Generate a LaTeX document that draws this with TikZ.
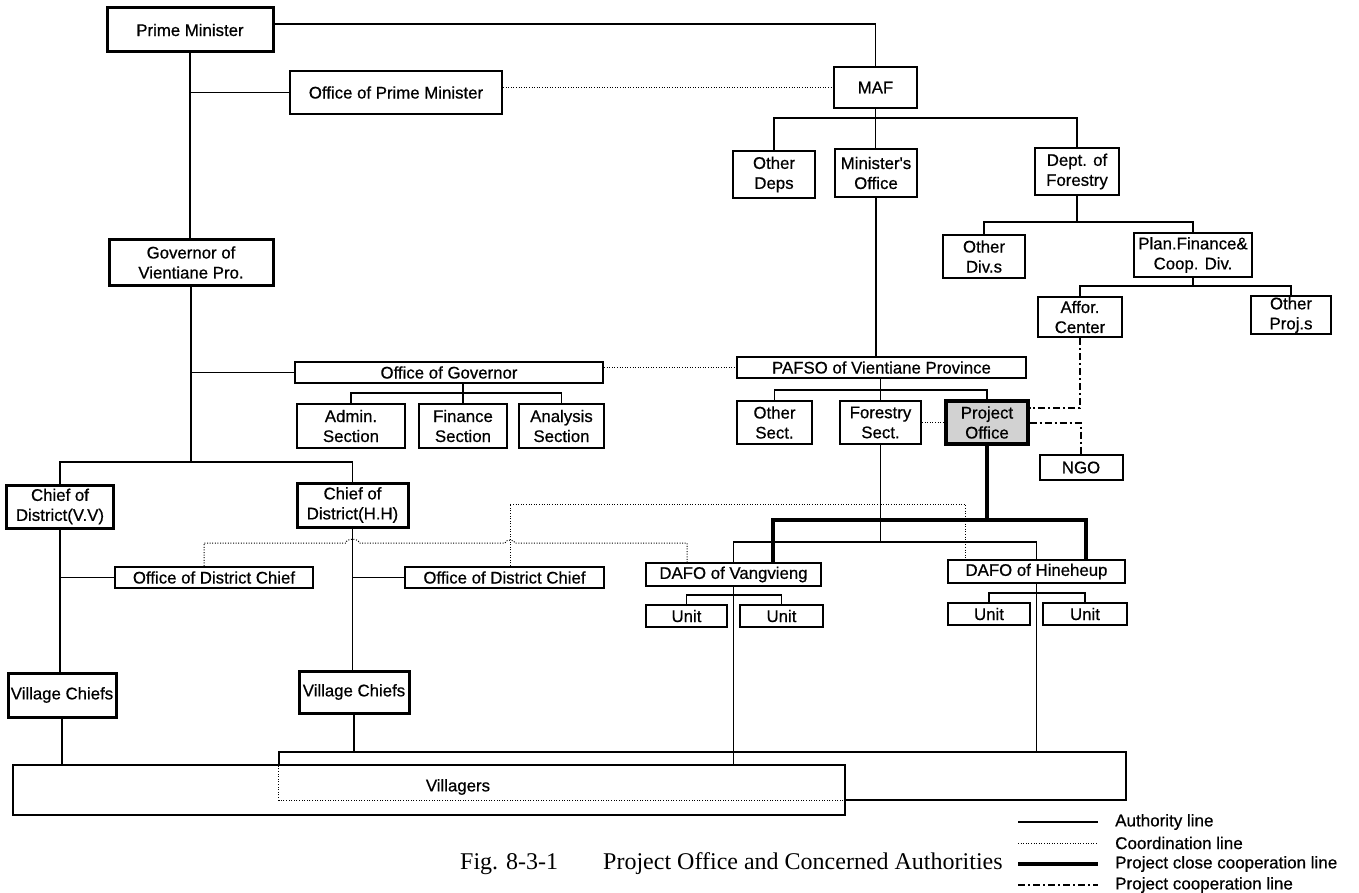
\documentclass[tikz,border=0pt]{standalone}
\usepackage{fontspec}
\setmainfont{Liberation Sans}
\newfontfamily\boxfont{Liberation Sans}[FakeBold=0.6]
\newfontfamily\capfont{Liberation Serif}
\begin{document}
\begin{tikzpicture}[x=1pt,y=-1pt,
  box/.style={draw, line width=2pt, inner sep=0pt, align=center, fill=white,
    font=\boxfont\fontsize{16.8}{20}\selectfont},
  tbox/.style={box, line width=3pt},
  wh/.style 2 args={minimum width=#1pt, minimum height=#2pt},
  auth/.style={line width=1.8pt},
  coordl/.style={line width=1pt, dash pattern=on 1pt off 1.6pt},
  closel/.style={line width=3.6pt},
  coopl/.style={line width=1.6pt, dash pattern=on 7pt off 3pt on 2pt off 3pt},
  legtext/.style={anchor=west, inner sep=0pt, font=\boxfont\fontsize{17}{20}\selectfont}]
\useasboundingbox (0,0) rectangle (1359,893);

% ---------- nodes ----------
\node[tbox, wh={166}{44}] (pm) at (190,30) {Prime Minister};
\node[box, wh={212}{43}] (opm) at (396,92.5) {Office of Prime Minister};
\node[box, wh={83}{41}] (maf) at (875.5,87.5) {MAF};
\node[box, wh={82}{47}] (othdeps) at (774,174.5) {Other\\Deps};
\node[box, wh={82}{48}] (minoff) at (876,173) {Minister's\\Office};
\node[box, wh={84}{47}] (deptfor) at (1077,171.5) {Dept. of\\Forestry};
\node[box, wh={82}{43}] (othdiv) at (984,256.5) {Other\\Div.s};
\node[box, wh={118}{44}] (planfin) at (1193,255) {Plan.Finance\&\\Coop. Div.};
\node[box, wh={84}{40}] (affor) at (1080,317) {Affor.\\Center};
\node[box, wh={80}{38}] (othproj) at (1291,315) {Other\\Proj.s};

\node[tbox, wh={164}{45}] (gov) at (191,262.5) {Governor of\\Vientiane Pro.};
\node[box, wh={308}{21}] (og) at (449,372.5) {Office of Governor};
\node[box, wh={108}{44}] (admin) at (351,426) {Admin.\\Section};
\node[box, wh={88}{44}] (finance) at (463,426) {Finance\\Section};
\node[box, wh={85}{44}] (analysis) at (561.5,426) {Analysis\\Section};

\node[box, wh={289}{21}] (pafso) at (881.5,367.5) {PAFSO of Vientiane Province};
\node[box, wh={75}{43}] (othsect) at (774.5,422.5) {Other\\Sect.};
\node[box, wh={81}{43}] (forsect) at (880.5,422.5) {Forestry\\Sect.};
\node[box, wh={82}{43}, line width=3.4pt, fill=gray!35] (projoff) at (987,422.5) {Project\\Office};
\node[box, wh={83}{25}] (ngo) at (1081,467.5) {NGO};

\node[tbox, wh={107}{43}] (chvv) at (60,506.5) {Chief of\\District(V.V)};
\node[tbox, wh={111}{44}] (chhh) at (352.5,505) {Chief of\\District(H.H)};
\node[box, wh={198}{21}] (odcl) at (214,577.5) {Office of District Chief};
\node[box, wh={199}{21}] (odcr) at (504.5,577.5) {Office of District Chief};
\node[box, wh={175}{23}] (dafov) at (733.5,574.5) {DAFO of Vangvieng};
\node[box, wh={177}{23}] (dafoh) at (1036.5,571.5) {DAFO of Hineheup};
\node[box, wh={81}{22}] (unit1) at (686.5,616) {Unit};
\node[box, wh={83}{22}] (unit2) at (781.5,616) {Unit};
\node[box, wh={82}{22}] (unit3) at (989,614) {Unit};
\node[box, wh={84}{22}] (unit4) at (1085,614) {Unit};

\node[tbox, wh={108}{44}] (vcl) at (62,695) {Village Chiefs};
\node[tbox, wh={110}{42}] (vcr) at (354,692) {Village Chiefs};

\node[draw, line width=1.8pt, inner sep=0pt, wh={832}{50}] (villA) at (429,790) {};
\node[inner sep=0pt, wh={847}{48}] (villB) at (702.5,776) {};
\draw[line width=1.8pt] (villB.south west |- villA.north) -- (villB.north west) -- (villB.north east)
  -- (villB.south east) -- (villB.south -| villA.east);
\draw[coordl] (villB.south -| villA.east) -- (villB.south west) -- (villB.south west |- villA.north);
\node[inner sep=0pt, font=\boxfont\fontsize{16.8}{20}\selectfont] (villtext) at (458,787) {Villagers};

% ---------- connectors: top ----------
\draw[auth] ([yshift=6pt]pm.east) -| (maf.north);
\draw[auth] (pm.south) -- (pm.south |- gov.north);
\draw[auth] (pm.south |- opm.west) -- (opm.west);
\draw[coordl] ([yshift=5pt]opm.east) -- ([yshift=5pt]opm.east -| maf.west);

\coordinate (mafbar) at (875.5,118);
\draw[auth] (maf.south) -- (maf.south |- minoff.north);
\draw[auth] (othdeps.north) |- (mafbar) -| (deptfor.north);
\draw[auth] (minoff.south) -- (minoff.south |- pafso.north);

\coordinate (dfbar) at (1077,222);
\draw[auth] (deptfor.south) -- (dfbar);
\draw[auth] (othdiv.north) |- (dfbar) -| (planfin.north);

\coordinate (pfbar) at (1193,286);
\draw[auth] (planfin.south) -- (pfbar);
\draw[auth] (affor.north) |- (pfbar) -| (othproj.north);

\coordinate (pcu) at ([yshift=14.5pt]projoff.east);
\coordinate (pcl) at ([yshift=-0.5pt]projoff.east);
\draw[coopl] (affor.south) -- (affor.south |- pcu) -- (pcu);
\draw[coopl] (pcl) -- (pcl -| ngo.north) -- (ngo.north);

% ---------- governor side ----------
\coordinate (chbar) at (191,462);
\draw[auth] (gov.south) -- (chbar);
\draw[auth] (chvv.north) |- (chbar) -| (chhh.north);
\draw[auth] (gov.south |- og.west) -- (og.west);
\draw[coordl] (og.east |- pafso.west) -- (pafso.west);

\coordinate (ogbar) at (463,393);
\draw[auth] (og.south -| finance.north) -- (finance.north);
\draw[auth] (admin.north) |- (ogbar) -| (analysis.north);

\coordinate (pabar) at (880.5,390);
\draw[auth] (pafso.south -| forsect.north) -- (forsect.north);
\draw[auth] (othsect.north) |- (pabar) -| (projoff.north);
\draw[coordl] (forsect.east) -- (projoff.west);

% ---------- districts ----------
\draw[auth] (chvv.south) -- (chvv.south |- vcl.north);
\draw[auth] (chvv.south |- odcl.west) -- (odcl.west);
\draw[auth] (chhh.south) -- (chhh.south |- vcr.north);
\draw[auth] (chhh.south |- odcr.west) -- (odcr.west);
\draw[auth] (vcl.south) -- (vcl.south |- villA.north);
\draw[auth] (vcr.south) -- (vcr.south |- villB.north);

% ---------- DAFOs ----------
\draw[auth] (dafov.south) -- (dafov.south |- villA.north);
\draw[auth] (dafoh.south) -- (dafoh.south |- villB.north);
\coordinate (dvbar) at (733.5,595);
\draw[auth] (unit1.north) |- (dvbar) -| (unit2.north);
\coordinate (dhbar) at (1036.5,593);
\draw[auth] (unit3.north) |- (dhbar) -| (unit4.north);

\coordinate (fsbar) at (880.5,542);
\draw[auth] (forsect.south) -- (fsbar);
\draw[auth] (dafov.north) |- (fsbar) -| (dafoh.north);

\coordinate (pobar) at (987,520);
\coordinate (dvclose) at ([xshift=39.5pt]dafov.north);
\coordinate (dhclose) at ([xshift=49.5pt]dafoh.north);
\draw[closel] (projoff.south) -- (pobar);
\draw[closel] (dvclose) |- (pobar) -| (dhclose);

% ---------- coordination lines ----------
\coordinate (odclT) at ([xshift=-10pt]odcl.north);
\coordinate (dvcoord) at ([xshift=-46.5pt]dafov.north);
\coordinate (odcrT) at ([xshift=5.5pt]odcr.north);
\coordinate (dhcoord) at ([xshift=-71.5pt]dafoh.north);
\coordinate (fsc) at (880.5,504);
\draw[coordl] (odclT) -- (odclT |- 0,543) -- (346,543) to[out=90,in=90] (359,543)
  -- (505,543) to[out=90,in=90] (515,543) -- (dvcoord |- 0,543) -- (dvcoord);
\draw[coordl] (odcrT) -- (odcrT |- fsc) -- (fsc);
\draw[coordl] (fsc) -- (fsc -| dhcoord) -- (dhcoord);

% ---------- caption and legend ----------
\node[anchor=west, inner sep=0pt, font=\capfont\fontsize{24}{28}\selectfont] (figno) at (460,864) {Fig. 8-3-1};
\node[anchor=west, inner sep=0pt, font=\capfont\fontsize{24}{28}\selectfont] (title) at (603,864) {Project Office and Concerned Authorities};

\coordinate (l1a) at (1018,822); \coordinate (l1b) at (1098,822);
\coordinate (l2a) at (1018,843); \coordinate (l2b) at (1098,843);
\coordinate (l3a) at (1018,864); \coordinate (l3b) at (1098,864);
\coordinate (l4a) at (1018,885); \coordinate (l4b) at (1098,885);
\draw[auth] (l1a) -- (l1b);
\draw[coordl] (l2a) -- (l2b);
\draw[closel] (l3a) -- (l3b);
\draw[coopl] (l4a) -- (l4b);
\node[legtext] (lt1) at (1115,822) {Authority line};
\node[legtext] (lt2) at (1115,843) {Coordination line};
\node[legtext] (lt3) at (1115,864) {Project close cooperation line};
\node[legtext] (lt4) at (1115,885) {Project cooperation line};
\end{tikzpicture}
\end{document}
